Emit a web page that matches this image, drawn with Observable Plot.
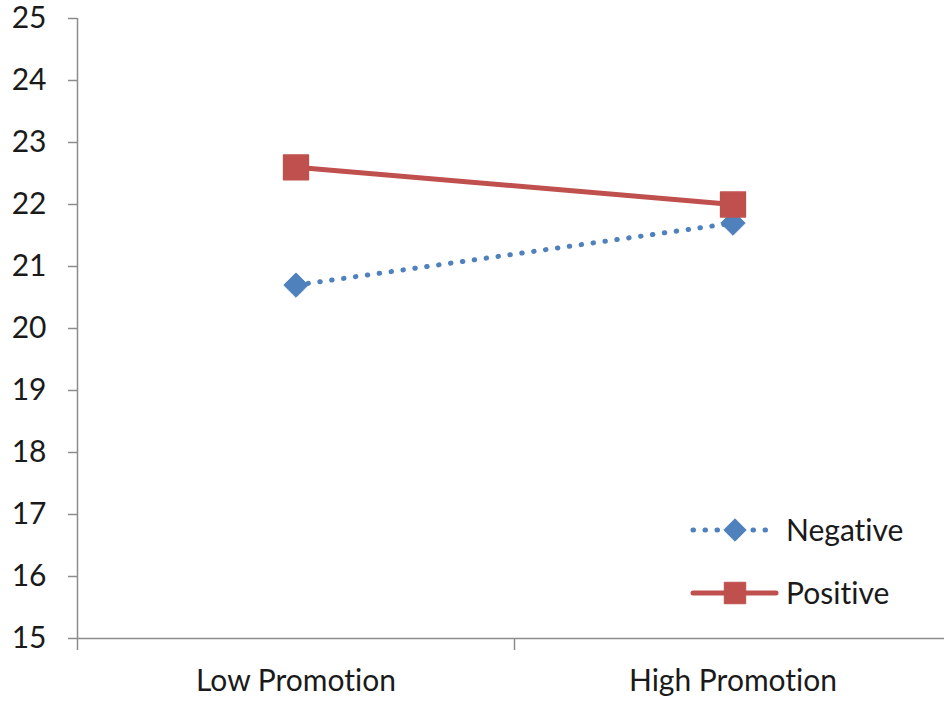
<!DOCTYPE html>
<html>
<head>
<meta charset="utf-8">
<script src="https://cdn.jsdelivr.net/npm/d3@7"></script>
<script src="https://cdn.jsdelivr.net/npm/@observablehq/plot@0.6"></script>
<style>
  html, body { margin: 0; padding: 0; background: #fff; }
  #wrap { position: relative; width: 944px; height: 706px; overflow: hidden; font-family: Lato, "Open Sans", sans-serif; }
  #wrap svg { overflow: visible; }
  #wrap svg text { font-variant-ligatures: none; font-feature-settings: "liga" 0; }
  #legend { position: absolute; left: 688px; top: 510px; }
  #legend svg { display: block; }
</style>
</head>
<body>
<div id="wrap">
  <div id="chart"></div>
  <div id="legend"></div>
</div>
<script>
// Category labels along the x axis (one band per promotion level)
const categories = ["Low Promotion", "High Promotion"];
// Mean scores for each framing condition
const negative = [20.7, 21.7];
const positive = [22.6, 22.0];
// Y axis tick values
const yTicks = [15, 16, 17, 18, 19, 20, 21, 22, 23, 24, 25];

const seriesNames = ["Negative", "Positive"];
const colors = {Negative: "#4F81BD", Positive: "#C0504D"};

// Each category sits in the middle of its band: band i spans [i, i+1]
const rows = (vals, name) => vals.map((v, i) => ({series: name, pos: i + 0.5, value: v}));
const negRows = rows(negative, "Negative");
const posRows = rows(positive, "Positive");
const bandEdges = d3.range(categories.length + 1);
const bandCenters = categories.map((_, i) => i + 0.5);

const font = "Lato, 'Open Sans', sans-serif";
const fs = 30;

const chart = Plot.plot({
  width: 944,
  height: 706,
  marginLeft: 77,
  marginRight: 0,
  marginTop: 18,
  marginBottom: 68,
  style: {fontFamily: font, fontSize: `${fs}px`, color: "#1a1a1a", background: "#fff"},
  // the last band runs slightly past the right edge of the canvas
  x: {domain: [0, categories.length], range: [77, 951], axis: null},
  y: {domain: [15, 25], axis: null},
  marks: [
    // axis lines
    Plot.ruleX([0], {stroke: "#8c8c8c", strokeWidth: 1.5}),
    Plot.ruleY([15], {stroke: "#8c8c8c", strokeWidth: 1.5}),
    // y ticks and labels
    Plot.axisY(yTicks, {
      tickSize: 9, tickPadding: 22, stroke: "#8c8c8c", strokeWidth: 1.5,
      tickFormat: d3.format("d"), fontSize: fs, fill: "#1a1a1a", label: null
    }),
    // x band boundary ticks
    Plot.axisX(bandEdges, {
      tickSize: 12, tickFormat: () => "", stroke: "#8c8c8c", strokeWidth: 1.5, label: null
    }),
    // x category labels
    Plot.axisX(bandCenters, {
      tickSize: 0, tickPadding: 31, tickFormat: (d) => categories[Math.round(d - 0.5)],
      fontSize: fs, fill: "#1a1a1a", label: null
    }),
    // Negative: dotted blue line with diamonds
    Plot.line(negRows, {
      x: "pos", y: "value", stroke: colors.Negative, strokeWidth: 5,
      strokeDasharray: "0.5 11.5", strokeLinecap: "round"
    }),
    Plot.dot(negRows, {
      x: "pos", y: "value", symbol: "diamond2", r: 11,
      fill: colors.Negative, stroke: colors.Negative, strokeWidth: 1
    }),
    // Positive: solid red line with squares
    Plot.line(posRows, {
      x: "pos", y: "value", stroke: colors.Positive, strokeWidth: 5
    }),
    Plot.dot(posRows, {
      x: "pos", y: "value", symbol: "square", r: 14,
      fill: colors.Positive, stroke: colors.Positive, strokeWidth: 1.5, strokeLinejoin: "round"
    })
  ]
});
document.getElementById("chart").appendChild(chart);

// Legend: line sample with marker, followed by series name
const legendSvg = d3.create("svg").attr("width", 240).attr("height", 110)
  .style("font-family", font).style("font-size", `${fs}px`);
seriesNames.forEach((name, i) => {
  const g = legendSvg.append("g").attr("transform", `translate(0, ${20 + i * 63})`);
  g.append("line").attr("x1", 5).attr("x2", name === "Negative" ? 86 : 88).attr("y1", 0).attr("y2", 0)
    .attr("stroke", colors[name]).attr("stroke-width", 5)
    .attr("stroke-linecap", "round")
    .attr("stroke-dasharray", name === "Negative" ? "0.5 11.5" : null);
  const sym = name === "Negative" ? d3.symbolDiamond2 : d3.symbolSquare;
  const size = name === "Negative" ? 320 : 460;
  g.append("path").attr("d", d3.symbol(sym, size)()).attr("transform", "translate(47,0)")
    .attr("fill", colors[name]).attr("stroke", colors[name]).attr("stroke-linejoin", "round");
  g.append("text").attr("x", 98).attr("y", 0).attr("dy", "0.35em").attr("fill", "#1a1a1a").text(name);
});
document.getElementById("legend").appendChild(legendSvg.node());
</script>
</body>
</html>
